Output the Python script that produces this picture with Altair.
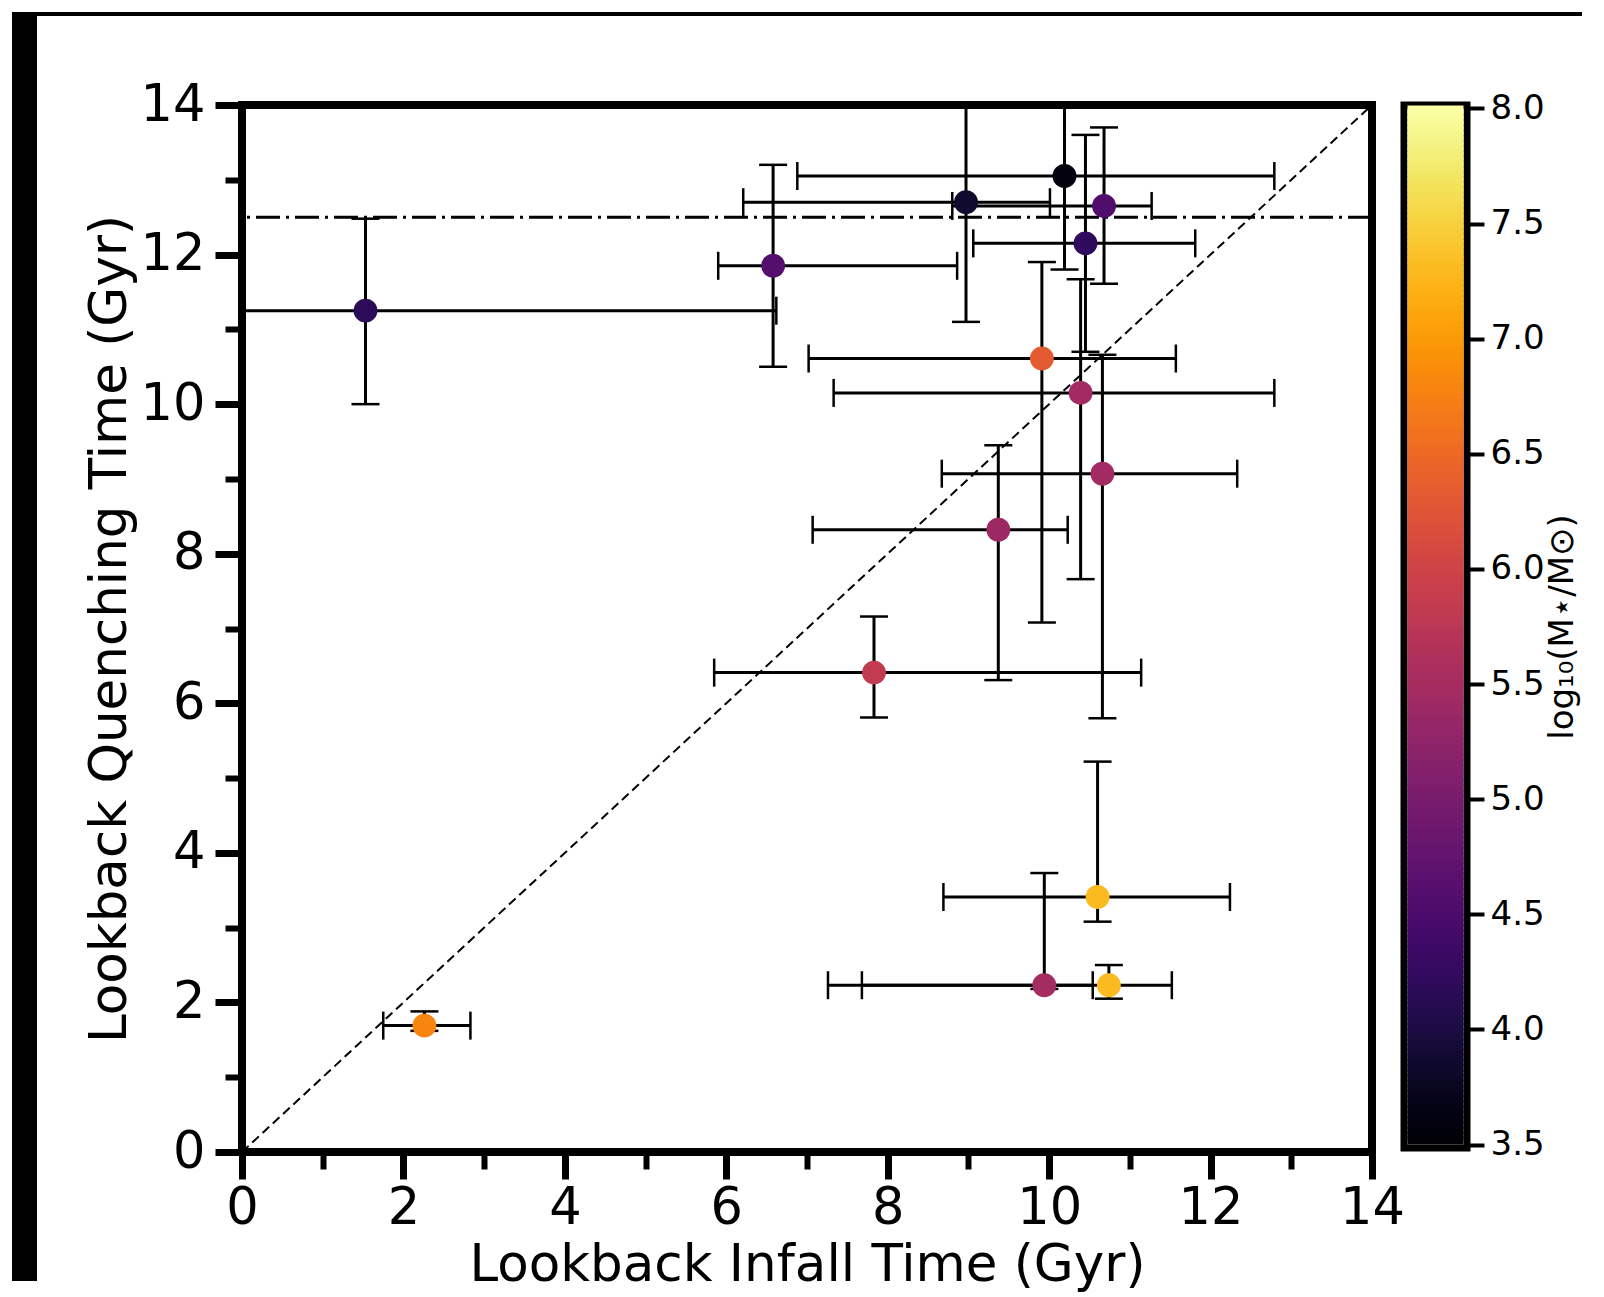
import altair as alt
import numpy as np
import pandas as pd

# ---- data ----
infall    = [1.53, 10.19, 8.97, 10.68, 10.45, 6.58, 9.91, 10.39, 10.66, 9.37, 7.83, 10.60, 9.94, 10.74, 2.26]
infall_lo = [-0.5, 6.88, 6.21, 8.80, 9.06, 5.90, 7.02, 7.33, 8.67, 7.07, 5.85, 8.69, 7.68, 7.26, 1.75]
infall_hi = [6.62, 12.79, 10.01, 11.27, 11.81, 8.86, 11.57, 12.79, 12.33, 10.23, 11.14, 12.24, 10.54, 11.52, 2.83]
quench    = [11.25, 13.05, 12.70, 12.65, 12.15, 11.85, 10.61, 10.15, 9.07, 8.32, 6.41, 3.41, 2.23, 2.23, 1.69]
quench_lo = [10.00, 11.80, 11.10, 11.61, 10.70, 10.50, 7.08, 7.66, 5.80, 6.31, 5.81, 3.08, 2.18, 2.05, 1.62]
quench_hi = [12.48, 14.5, 14.5, 13.70, 13.60, 13.20, 11.90, 11.67, 10.66, 9.45, 7.16, 5.22, 3.73, 2.50, 1.88]
logmass   = [4.18, 3.60, 3.86, 4.55, 4.22, 4.60, 6.33, 5.45, 5.45, 5.40, 5.84, 7.30, 5.48, 7.30, 6.80]

ref_quench = [12.5]
diag_x = [0, 14]
diag_y = [0, 14]
major_ticks = [0, 2, 4, 6, 8, 10, 12, 14]
minor_ticks = [1, 3, 5, 7, 9, 11, 13]
cbar_ticks = [3.5, 4.0, 4.5, 5.0, 5.5, 6.0, 6.5, 7.0, 7.5, 8.0]
cbar_domain = [3.5, 8.0]

FONT = "DejaVu Sans"
FS_TITLE = 51.5
FS_LABEL = 51

df = pd.DataFrame({
    "x": infall, "xlo": infall_lo, "xhi": infall_hi,
    "y": quench, "ylo": quench_lo, "yhi": quench_hi,
    "logm": logmass,
})

xs = alt.Scale(domain=[0, 14], nice=False, zero=False)
ys = alt.Scale(domain=[0, 14], nice=False, zero=False)
cscale = alt.Scale(scheme="inferno", domain=cbar_domain)

base = alt.Chart(df)
one = pd.DataFrame({"k": [0]})

# black page bands (top and left) seen in the reference
band_left = alt.Chart(one).mark_rect(color="black").encode(
    x=alt.value(-230), x2=alt.value(-205), y=alt.value(-93), y2=alt.value(1176))
band_top = alt.Chart(one).mark_rect(color="black").encode(
    x=alt.value(-230), x2=alt.value(1340), y=alt.value(-93), y2=alt.value(-89))

refline = alt.Chart(pd.DataFrame({"y": ref_quench})).mark_rule(
    color="black", strokeWidth=3, strokeDash=[24, 6, 3, 6]
).encode(y=alt.Y("y:Q", scale=ys, axis=None))

minor_x = alt.Axis(values=minor_ticks, orient="bottom", labels=False, domain=False,
                   grid=False, tickSize=17, tickWidth=6, tickColor="black", title=None)
minor_y = alt.Axis(values=minor_ticks, orient="left", labels=False, domain=False,
                   grid=False, tickSize=17, tickWidth=6, tickColor="black", title=None)

diag = alt.Chart(pd.DataFrame({"x": diag_x, "y": diag_y})).mark_line(
    color="black", strokeWidth=2, strokeDash=[9, 5]
).encode(x=alt.X("x:Q", scale=xs, axis=minor_x),
         y=alt.Y("y:Q", scale=ys, axis=minor_y))

xerr = base.mark_rule(color="black", strokeWidth=3, clip=True).encode(
    x=alt.X("xlo:Q", scale=xs, axis=None), x2="xhi:Q",
    y=alt.Y("y:Q", scale=ys, axis=None))
yerr = base.mark_rule(color="black", strokeWidth=3, clip=True).encode(
    x=alt.X("x:Q", scale=xs, axis=None),
    y=alt.Y("ylo:Q", scale=ys, axis=None), y2="yhi:Q")

xcaps = base.transform_fold(["xlo", "xhi"], as_=["k", "v"]).mark_tick(
    orient="vertical", size=28, thickness=2.5, color="black", opacity=1, clip=True
).encode(x=alt.X("v:Q", scale=xs, axis=None), y=alt.Y("y:Q", scale=ys, axis=None))
ycaps = base.transform_fold(["ylo", "yhi"], as_=["k", "v"]).mark_tick(
    orient="horizontal", size=28, thickness=2.5, color="black", opacity=1, clip=True
).encode(x=alt.X("x:Q", scale=xs, axis=None), y=alt.Y("v:Q", scale=ys, axis=None))

major_x = alt.Axis(values=major_ticks, orient="bottom", format="d", domain=False, grid=False,
                   tickSize=27, tickWidth=7, tickColor="black", labelFontSize=FS_LABEL,
                   labelPadding=4, labelFlush=False,
                   title="Lookback Infall Time (Gyr)", titleFontSize=FS_TITLE, titlePadding=6)
major_y = alt.Axis(values=major_ticks, orient="left", format="d", domain=False, grid=False,
                   tickSize=27, tickWidth=7, tickColor="black", labelFontSize=FS_LABEL,
                   labelPadding=10, labelFlush=False,
                   title="Lookback Quenching Time (Gyr)", titleFontSize=FS_TITLE,
                   titlePadding=4)

points = base.mark_circle(size=570, opacity=1).encode(
    x=alt.X("x:Q", scale=xs, axis=major_x),
    y=alt.Y("y:Q", scale=ys, axis=major_y),
    color=alt.Color("logm:Q", scale=cscale, legend=None))

main = alt.layer(
    band_left, band_top, refline, diag, xerr, yerr, xcaps, ycaps, points
).resolve_axis(x="independent", y="independent").properties(
    width=1130, height=1047,
    view=alt.ViewBackground(stroke="black", strokeWidth=8))

# ---- colourbar ----
N = 200
step = (cbar_domain[1] - cbar_domain[0]) / N
lo = np.linspace(cbar_domain[0], cbar_domain[1], N, endpoint=False)
cb = pd.DataFrame({"lo": lo, "hi": lo + step * 1.6, "mid": lo + step / 2,
                   "x0": 0.0, "x1": 1.0})

cbar = alt.Chart(cb).mark_rect(clip=True).encode(
    x=alt.X("x0:Q", scale=alt.Scale(domain=[0, 1], nice=False, zero=False, padding=3.5),
            axis=None),
    x2="x1:Q",
    y=alt.Y("lo:Q", scale=alt.Scale(domain=cbar_domain, nice=False, zero=False, padding=3.5),
            axis=alt.Axis(orient="right", values=cbar_ticks, format=".1f", domain=False,
                          grid=False, tickSize=17, tickWidth=4, tickColor="black",
                          labelFontSize=34, labelPadding=6,
                          title="log₁₀(M⋆/M⊙)", titleFontSize=34, titleAngle=270,
                          titlePadding=35)),
    y2="hi:Q",
    color=alt.Color("mid:Q", scale=cscale, legend=None),
).properties(width=63, height=1043,
             view=alt.ViewBackground(stroke="black", strokeWidth=7))

chart = alt.hconcat(main, cbar, spacing=32, bounds="flush").properties(
    padding={"left": 0, "top": 0, "right": 0, "bottom": 0}, background="white"
).configure(
    padding={"left": 0, "top": 0, "right": 0, "bottom": 0}
).configure_axis(
    labelFont=FONT, titleFont=FONT, labelColor="black", titleColor="black",
    titleFontWeight="normal"
)

chart.save("out.html", embed_options={"renderer": "svg", "actions": False})
